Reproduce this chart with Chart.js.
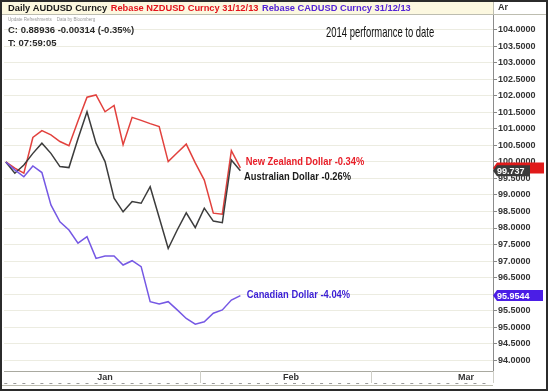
<!DOCTYPE html>
<html>
<head>
<meta charset="utf-8">
<script src="https://cdn.jsdelivr.net/npm/chart.js@4.4.1/dist/chart.umd.min.js"></script>
<style>
  html, body { margin: 0; padding: 0; background: #fff; }
  canvas { display: block; }
</style>
</head>
<body>
<canvas id="perfChart" width="550" height="392"></canvas>
<script>
// trading days, rebased to 100 on 31/12/13
const days = ['31/12', '02/01', '03/01', '06/01', '07/01', '08/01', '09/01', '10/01', '13/01',
  '14/01', '15/01', '16/01', '17/01', '21/01', '22/01', '23/01', '24/01', '27/01', '28/01',
  '29/01', '30/01', '31/01', '03/02', '04/02', '05/02', '06/02', '07/02'];

const nzd = [100.00, 99.81, 99.66, 100.74, 100.95, 100.82, 100.62, 100.49, 101.24, 101.96,
  102.03, 101.52, 101.71, 100.52, 101.35, 101.26, 101.16, 101.07, 100.01, 100.28, 100.54,
  99.97, 99.45, 98.45, 98.42, 100.34, 99.82];

const aud = [100.00, 99.66, 99.91, 100.26, 100.57, 100.26, 99.86, 99.83, 100.70, 101.52,
  100.57, 100.01, 98.90, 98.49, 98.80, 98.75, 99.25, 98.32, 97.38, 97.94, 98.46, 98.01,
  98.60, 98.21, 98.16, 100.06, 99.737];

const cad = [100.00, 99.76, 99.55, 99.88, 99.68, 98.70, 98.19, 97.94, 97.54, 97.74, 97.08,
  97.15, 97.15, 96.88, 97.01, 96.83, 95.77, 95.70, 95.77, 95.52, 95.26, 95.09, 95.16, 95.42,
  95.52, 95.82, 95.9544];

const monthLabels = ['Jan', 'Feb', 'Mar'];
const monthCenters = [11, 31.6, 51];
const monthBounds = [21.5, 40.5];

const yTicks = [94.0, 94.5, 95.0, 95.5, 96.0, 96.5, 97.0, 97.5, 98.0, 98.5, 99.0, 99.5,
  100.0, 100.5, 101.0, 101.5, 102.0, 102.5, 103.0, 103.5, 104.0];

const seriesNotes = ['New Zealand Dollar -0.34%', 'Australian Dollar -0.26%', 'Canadian Dollar -4.04%'];

const toPoints = (arr) => arr.map((v, i) => ({ x: i, y: v }));

function drawTag(ctx, y, x0, x1, bg, text) {
  ctx.fillStyle = bg;
  ctx.beginPath();
  ctx.moveTo(x0, y);
  ctx.lineTo(x0 + 4, y - 5.5);
  ctx.lineTo(x1, y - 5.5);
  ctx.lineTo(x1, y + 5.5);
  ctx.lineTo(x0 + 4, y + 5.5);
  ctx.closePath();
  ctx.fill();
  if (text) {
    ctx.fillStyle = '#fff';
    ctx.font = 'bold 9px "Liberation Sans", Arial, sans-serif';
    ctx.textAlign = 'left';
    ctx.textBaseline = 'middle';
    ctx.fillText(text, x0 + 4, y + 0.5);
  }
}

function narrowText(ctx, text, x, y, font, color, sx) {
  ctx.save();
  ctx.font = font;
  ctx.fillStyle = color;
  ctx.textAlign = 'left';
  ctx.textBaseline = 'middle';
  ctx.translate(x, y);
  ctx.scale(sx, 1);
  ctx.fillText(text, 0, 0);
  ctx.restore();
}

const decor = {
  id: 'decor',
  beforeDraw(chart) {
    const { ctx, chartArea: a } = chart;
    ctx.save();
    ctx.fillStyle = '#fff';
    ctx.fillRect(0, 0, chart.width, chart.height);
    // header strip
    ctx.fillStyle = '#fcf8e0';
    ctx.fillRect(2, 2, a.right - 2, 12);
    ctx.restore();
  },
  afterDraw(chart) {
    const { ctx, chartArea: a } = chart;
    const xs = chart.scales.x;
    const ys = chart.scales.y;
    ctx.save();

    // header lines
    ctx.strokeStyle = '#bdbdb0';
    ctx.lineWidth = 1;
    ctx.beginPath();
    ctx.moveTo(2, 14.5); ctx.lineTo(546, 14.5);
    ctx.moveTo(a.right + 0.5, 2); ctx.lineTo(a.right + 0.5, 15);
    ctx.stroke();

    // header texts
    ctx.textBaseline = 'middle';
    ctx.textAlign = 'left';
    ctx.font = 'bold 9.3px "Liberation Sans", Arial, sans-serif';
    let hx = 8;
    [['Daily AUDUSD Curncy', '#1a1a1a'], ['Rebase NZDUSD Curncy 31/12/13', '#e3141c'],
     ['Rebase CADUSD Curncy 31/12/13', '#5424d6']].forEach(([t, c]) => {
      ctx.fillStyle = c;
      ctx.fillText(t, hx, 8);
      hx += ctx.measureText(t).width + 3.5;
    });
    ctx.fillStyle = '#333';
    ctx.font = 'bold 9px "Liberation Sans", Arial, sans-serif';
    ctx.fillText('Ar', a.right + 5, 8);

    // info lines
    ctx.fillStyle = '#999';
    ctx.font = '4.5px "Liberation Sans", Arial, sans-serif';
    ctx.fillText('Update Refreshments    Data by Bloomberg', 8, 19.5);
    ctx.fillStyle = '#2a2a2a';
    ctx.font = 'bold 9.5px "Liberation Sans", Arial, sans-serif';
    ctx.fillText('C: 0.88936 -0.00314 (-0.35%)', 8, 30.5);
    ctx.fillText('T: 07:59:05', 8, 43);

    narrowText(ctx, '2014 performance to date', 326, 32.5, '15px "Liberation Sans", Arial, sans-serif', '#111', 0.63);

    // series notes next to the line ends
    const noteFont = 'bold 11px "Liberation Sans", Arial, sans-serif';
    narrowText(ctx, seriesNotes[0], xs.getPixelForValue(26.6), ys.getPixelForValue(100.01), noteFont, '#e8202a', 0.85);
    narrowText(ctx, seriesNotes[1], xs.getPixelForValue(26.4), ys.getPixelForValue(99.56), noteFont, '#1c1c1c', 0.85);
    narrowText(ctx, seriesNotes[2], xs.getPixelForValue(26.7), ys.getPixelForValue(95.97), noteFont, '#3b1fd4', 0.85);

    // last value tags on the right axis
    const last = days.length - 1;
    drawTag(ctx, ys.getPixelForValue(nzd[last]), a.right, a.right + 51, '#e01a1a', '');
    drawTag(ctx, ys.getPixelForValue(aud[last]), a.right, a.right + 37, '#3a3a3a', aud[last].toFixed(3));
    drawTag(ctx, ys.getPixelForValue(cad[last]), a.right, a.right + 50, '#4b1ee6', cad[last].toFixed(4));

    // month band separators and day ticks
    ctx.strokeStyle = '#cfcfc8';
    ctx.beginPath();
    monthBounds.forEach((b) => {
      const px = Math.round(xs.getPixelForValue(b)) + 0.5;
      ctx.moveTo(px, a.bottom); ctx.lineTo(px, a.bottom + 12);
    });
    ctx.moveTo(a.right + 0.5, a.bottom); ctx.lineTo(a.right + 0.5, a.bottom + 12);
    ctx.stroke();
    ctx.strokeStyle = '#9a9a9a';
    ctx.beginPath();
    for (let i = 0; i <= 53; i += 1) {
      const px = xs.getPixelForValue(i);
      ctx.moveTo(px - 1.5, a.bottom + 12.5); ctx.lineTo(px + 1.5, a.bottom + 12.5);
    }
    ctx.stroke();
    ctx.strokeStyle = '#bdbdb0';
    ctx.beginPath();
    ctx.moveTo(2, a.bottom + 14.5); ctx.lineTo(a.right, a.bottom + 14.5);
    ctx.stroke();

    // outer frame
    ctx.strokeStyle = '#2b2b2b';
    ctx.lineWidth = 2;
    ctx.strokeRect(1, 1, 546, 389);
    ctx.restore();
  }
};

const ctx = document.getElementById('perfChart').getContext('2d');
new Chart(ctx, {
  type: 'line',
  data: {
    datasets: [
      { label: 'CADUSD', data: toPoints(cad), borderColor: '#7558e4', borderWidth: 1.5, pointRadius: 0, tension: 0 },
      { label: 'AUDUSD', data: toPoints(aud), borderColor: '#3c3c3c', borderWidth: 1.5, pointRadius: 0, tension: 0 },
      { label: 'NZDUSD', data: toPoints(nzd), borderColor: '#e2413d', borderWidth: 1.5, pointRadius: 0, tension: 0 },
    ],
  },
  options: {
    responsive: false,
    animation: false,
    devicePixelRatio: 1,
    layout: { padding: { top: 15, right: 4, bottom: 9, left: 4 } },
    plugins: {
      legend: { display: false },
      tooltip: { enabled: false },
    },
    scales: {
      x: {
        type: 'linear',
        position: 'bottom',
        min: -0.2,
        max: 54,
        afterBuildTicks: (s) => { s.ticks = monthCenters.map((v) => ({ value: v })); },
        afterFit: (s) => { s.height = 12; },
        ticks: {
          autoSkip: false,
          maxRotation: 0,
          padding: 1,
          color: '#333',
          font: { family: '"Liberation Sans", Arial, sans-serif', size: 9, weight: 'bold' },
          callback: (v, i) => monthLabels[i],
        },
        grid: { display: false, drawTicks: false },
        border: { display: true, color: '#a9a9a0' },
      },
      y: {
        position: 'right',
        min: 93.67,
        max: 104.45,
        afterBuildTicks: (s) => { s.ticks = yTicks.map((v) => ({ value: v })); },
        afterFit: (s) => { s.width = 53; },
        ticks: {
          padding: 1,
          color: '#333',
          font: { family: '"Liberation Sans", Arial, sans-serif', size: 9, weight: 'bold' },
          callback: (v) => Number(v).toFixed(4),
        },
        grid: { color: '#ecece1', tickColor: '#888', tickLength: 4 },
        border: { color: '#8c8c8c' },
      },
    },
  },
  plugins: [decor],
});
</script>
</body>
</html>
